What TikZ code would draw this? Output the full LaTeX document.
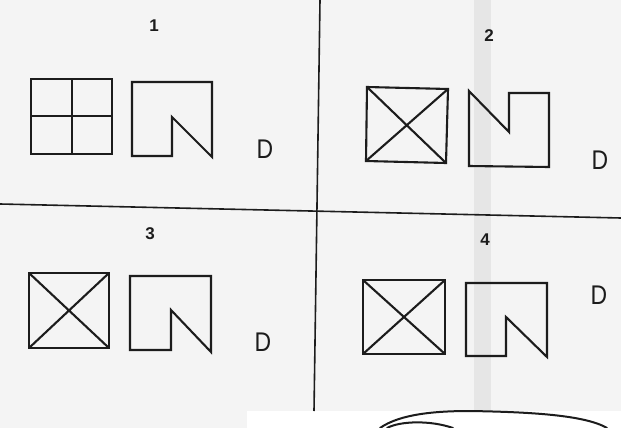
\documentclass[tikz,border=0pt]{standalone}
\usepackage{fontspec}
\setsansfont{Liberation Sans}
\usetikzlibrary{positioning}
\definecolor{paper}{HTML}{F4F4F4}
\definecolor{ink}{HTML}{1C1C1C}
\definecolor{band}{HTML}{DADADA}
\tikzset{
  rule/.style={draw=ink, line width=1.6pt},
  figline/.style={draw=ink, line width=2.1pt, line join=miter},
  sketch/.style={draw=ink, line width=2pt, line cap=round},
  num/.style={font=\sffamily\bfseries\fontsize{17}{17}\selectfont, text=ink, inner sep=0pt},
  choice/.style={font=\sffamily\fontsize{27}{27}\selectfont, text=ink, inner sep=0pt, xscale=0.85}
}
\begin{document}
\begin{tikzpicture}[x=1pt,y=-1pt]
\useasboundingbox (0,0) rectangle (621,428);
\fill[paper] (0,0) rectangle (621,428);
\fill[band, opacity=0.5] (474,0) rectangle (491,411);
\fill[white] (247,411) rectangle (621,428);
% dividing rules
\draw[rule] (0,204) -- (621,218);
\draw[rule] (320,0) -- (314,411);
% panel 1
\node[num] (n1) at (154,26) {1};
\draw[figline] (31,79) rectangle (112,154);
\draw[figline] (72,79) -- (72,154) (31,116) -- (112,116);
\draw[figline] (132,82) -- (212,82) -- (212,157) -- (172,117) -- (172,156) -- (132,156) -- cycle;
\node[choice] (d1) at (265,149) {D};
% panel 2
\node[num] (n2) at (489,36) {2};
\draw[figline] (367,87) -- (448,89) -- (446,163) -- (366,161) -- cycle;
\draw[figline] (367,87) -- (446,163) (448,89) -- (366,161);
\draw[figline] (469,91) -- (509,132) -- (509,93) -- (549,93) -- (549,167) -- (469,166) -- cycle;
\node[choice] (d2) at (600,160) {D};
% panel 3
\node[num] (n3) at (150,234) {3};
\draw[figline] (29,273) rectangle (109,348);
\draw[figline] (29,273) -- (109,348) (109,273) -- (29,348);
\draw[figline] (130,276) -- (211,276) -- (211,352) -- (171,310) -- (171,350) -- (130,350) -- cycle;
\node[choice] (d3) at (263,342) {D};
% panel 4
\node[num] (n4) at (485,240) {4};
\draw[figline] (363,280) rectangle (445,354);
\draw[figline] (363,280) -- (445,354) (445,280) -- (363,354);
\draw[figline] (466,283) -- (547,283) -- (547,357) -- (506,317) -- (506,356) -- (466,356) -- cycle;
\node[choice] (d4) at (599,295) {D};
% pencil marks at the bottom
\draw[sketch] (380,428) .. controls (400,414) and (435,411) .. (470,411) .. controls (530,412) and (585,415) .. (607,428);
\draw[sketch] (387,428) .. controls (400,421) and (430,420) .. (453,428);
\end{tikzpicture}
\end{document}
